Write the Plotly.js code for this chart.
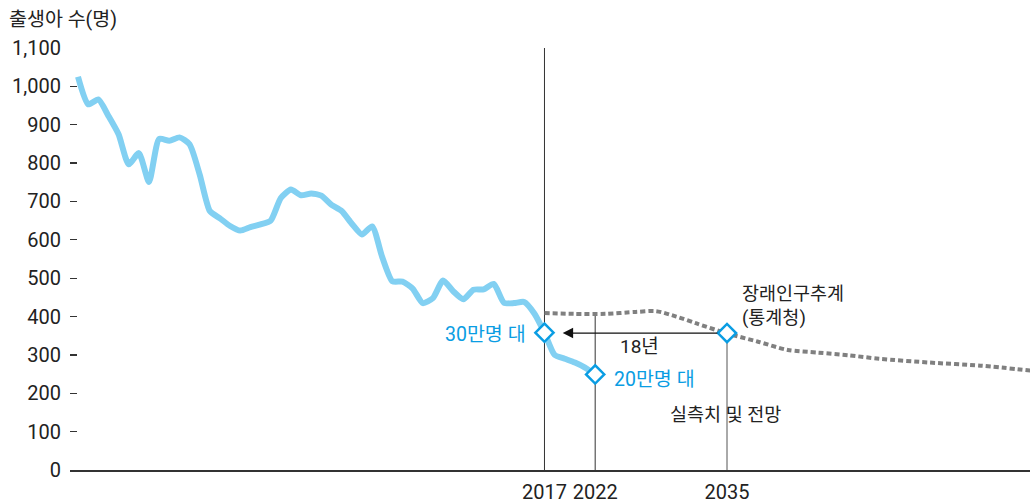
<!DOCTYPE html>
<html>
<head>
<meta charset="utf-8">
<script src="https://cdn.plot.ly/plotly-3.0.1.min.js"></script>
<style>
  html, body { margin: 0; padding: 0; background: #fff; }
  #chart { width: 1030px; height: 504px; }
</style>
</head>
<body>
<div id="chart"></div>
<script>
// Actual births (thousands), 1971-2022
const actualYears = [1971,1972,1973,1974,1975,1976,1977,1978,1979,1980,1981,1982,1983,1984,1985,1986,1987,1988,1989,1990,1991,1992,1993,1994,1995,1996,1997,1998,1999,2000,2001,2002,2003,2004,2005,2006,2007,2008,2009,2010,2011,2012,2013,2014,2015,2016,2017,2018,2019,2020,2021,2022];
const actualValues = [1025,953,966,923,875,797,826,751,863,858,867,849,770,675,656,636,624,633,640,650,709,731,716,721,715,691,675,642,614,635,555,492,491,473,435,448,494,466,445,470,471,485,436,435,438,408,358,300,290,280,267,249];

// Projection (장래인구추계, 통계청), thousands
const projYears = [2017,2020,2023,2026,2028,2030,2032,2035,2038,2041,2044,2047,2050,2055,2060,2065];
const projValues = [409,407,407,412,414,400,382,356,335,313,306,299,290,280,272,259];

// Highlighted points
const markYears = [2017,2022,2035];
const markValues = [358,249,357];

const xTickVals = [2017,2022,2035];
const xTickText = ['2017','2022','2035'];
const yTickVals = [0,100,200,300,400,500,600,700,800,900,1000,1100];

const FONT = 'Roboto, "Noto Sans CJK KR", "Noto Sans", sans-serif';
const BLUE = '#0a9de3';

const traces = [
  {
    x: projYears, y: projValues, type: 'scatter', mode: 'lines',
    line: {color: '#808080', width: 4, dash: '5px,3px', shape: 'spline', smoothing: 0.8},
    hoverinfo: 'skip'
  },
  {
    x: actualYears, y: actualValues, type: 'scatter', mode: 'lines',
    line: {color: '#82d0f2', width: 6, shape: 'spline', smoothing: 0.6},
    hoverinfo: 'skip'
  },
  {
    x: markYears, y: markValues, type: 'scatter', mode: 'markers',
    marker: {symbol: 'diamond', size: 14, color: '#ffffff', line: {color: BLUE, width: 2.5}},
    hoverinfo: 'skip'
  }
];

const layout = {
  width: 1030, height: 504,
  margin: {l: 70, r: 0, t: 48, b: 34},
  paper_bgcolor: '#fff', plot_bgcolor: '#fff',
  showlegend: false,
  font: {family: FONT, size: 19, color: '#222'},
  xaxis: {
    range: [1970.21, 2064.88],
    tickvals: xTickVals, ticktext: xTickText,
    showgrid: false, zeroline: false,
    showline: true, linecolor: '#333', linewidth: 1.5,
    ticks: '', ticklabelstandoff: 3,
    tickfont: {family: FONT, size: 20, color: '#222'}
  },
  yaxis: {
    range: [0, 1100],
    tickvals: yTickVals, tickformat: ',d',
    showgrid: false, zeroline: false, showline: false,
    ticks: 'inside', ticklen: 7, tickcolor: '#333', tickwidth: 1.2,
    ticklabelstandoff: 8,
    tickfont: {family: FONT, size: 20, color: '#222'}
  },
  shapes: [
    {type: 'line', layer: 'below', x0: 2017, x1: 2017, y0: 0, y1: 1100, xref: 'x', yref: 'y', line: {color: '#333', width: 1}},
    {type: 'line', layer: 'below', x0: 2022, x1: 2022, y0: 0, y1: 406, xref: 'x', yref: 'y', line: {color: '#333', width: 1}},
    {type: 'line', layer: 'below', x0: 2035, x1: 2035, y0: 0, y1: 357, xref: 'x', yref: 'y', line: {color: '#555', width: 1}}
  ],
  annotations: [
    {xref: 'paper', yref: 'paper', x: -0.0656, y: 1.0687, xanchor: 'left', yanchor: 'middle',
     text: '출생아 수(명)', showarrow: false, font: {family: FONT, size: 19.5, color: '#222'}},
    {xref: 'x', yref: 'y', x: 2018.8, y: 357, ax: 2034.2, ay: 357, axref: 'x', ayref: 'y',
     text: '', showarrow: true, arrowhead: 2, arrowsize: 1.6, arrowwidth: 1.3, arrowcolor: '#111', standoff: 0},
    {xref: 'x', yref: 'y', x: 2026.4, y: 323, text: '18년', showarrow: false,
     xanchor: 'center', yanchor: 'middle', font: {family: FONT, size: 19, color: '#222'}},
    {xref: 'x', yref: 'y', x: 2015.4, y: 352, text: '30만명 대', showarrow: false,
     xanchor: 'right', yanchor: 'middle', font: {family: FONT, size: 19.5, color: BLUE}},
    {xref: 'x', yref: 'y', x: 2023.66, y: 235, text: '20만명 대', showarrow: false,
     xanchor: 'left', yanchor: 'middle', font: {family: FONT, size: 19.5, color: BLUE}},
    {xref: 'x', yref: 'y', x: 2036.3, y: 460, text: '장래인구추계', showarrow: false,
     xanchor: 'left', yanchor: 'middle', font: {family: FONT, size: 18.5, color: '#222'}},
    {xref: 'x', yref: 'y', x: 2036.3, y: 397, text: '(통계청)', showarrow: false,
     xanchor: 'left', yanchor: 'middle', font: {family: FONT, size: 18.5, color: '#222'}},
    {xref: 'x', yref: 'y', x: 2029.2, y: 143, text: '실측치 및 전망', showarrow: false,
     xanchor: 'left', yanchor: 'middle', font: {family: FONT, size: 18.5, color: '#222'}}
  ]
};

Plotly.newPlot('chart', traces, layout, {staticPlot: true, displayModeBar: false});
</script>
</body>
</html>
